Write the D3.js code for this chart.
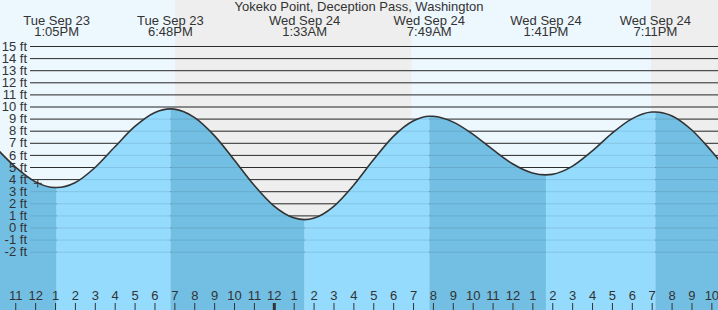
<!DOCTYPE html>
<html>
<head>
<meta charset="utf-8">
<script src="https://cdn.jsdelivr.net/npm/d3@7"></script>
<style>
body { margin: 0; }
svg { display: block; font-family: "Liberation Sans", Arial, sans-serif; }
</style>
</head>
<body>
<svg id="tideSVG" width="718" height="310"></svg>
<script>
// Tide chart data
const chartTitle = "Yokeko Point, Deception Pass, Washington";
const viewStart = "2025-09-23T10:14";
const viewEnd = "2025-09-24T22:20";

// highs and lows
const extremeTimes = ["2025-09-23T13:05", "2025-09-23T18:48", "2025-09-24T01:33", "2025-09-24T07:49", "2025-09-24T13:41", "2025-09-24T19:11"];
const extremeHeights = [3.3, 9.8, 0.65, 9.2, 4.35, 9.55];
const extremeTypes = ["L", "H", "L", "H", "L", "H"];
const extremeDayLabels = ["Tue Sep 23", "Tue Sep 23", "Wed Sep 24", "Wed Sep 24", "Wed Sep 24", "Wed Sep 24"];
const extremeTimeLabels = ["1:05PM", "6:48PM", "1:33AM", "7:49AM", "1:41PM", "7:11PM"];

// hourly readings (hours counted from Tue 00:00)
const readingHours = [10, 11, 12, 13, 14, 15, 16, 17, 18, 19, 20, 21, 22, 23, 24, 25, 26, 27, 28,
    29, 30, 31, 32, 33, 34, 35, 36, 37, 38, 39, 40, 41, 42, 43, 44, 45, 46, 47];
const readingHeights = [6.64, 5.01, 3.79, 3.30, 3.70, 4.94, 6.65, 8.33, 9.49, 9.78, 9.10, 7.61, 5.60, 3.51, 1.79, 0.80, 0.76, 1.73, 3.47,
    5.57, 7.51, 8.80, 9.19, 8.73, 7.72, 6.45, 5.27, 4.51, 4.39, 5.05, 6.31, 7.78, 8.98, 9.54, 9.24, 8.08, 6.33, 4.36];

// sunrise / sunset
const sunTimes = ["2025-09-23T19:02", "2025-09-24T06:56", "2025-09-24T18:58"];
const sunTypes = ["set", "rise", "set"];

const yTicks = [-2, -1, 0, 1, 2, 3, 4, 5, 6, 7, 8, 9, 10, 11, 12, 13, 14, 15];

const nowTime = "2025-09-23T12:08";
const nowHeight = 3.65;

function tideDrawing(id) {
    const parse = d3.timeParse("%Y-%m-%dT%H:%M");
    const svg = d3.select(id),
        width = +svg.attr("width"),
        height = +svg.attr("height");

    const dayColor = "#edf7fe", nightColor = "#eeeeee";
    const floodColor = "#94dbfe", ebbColor = "#72bfe3";

    const x = d3.scaleTime().domain([parse(viewStart), parse(viewEnd)]).range([0, width]);
    const y = d3.scaleLinear().domain([-2, 15]).range([251.7, 46]);

    const tueStart = parse("2025-09-23T00:00");
    const extremes = extremeTimes.map((t, i) => ({
        time: parse(t), h: extremeHeights[i], type: extremeTypes[i],
        day: extremeDayLabels[i], label: extremeTimeLabels[i]
    }));
    let points = readingHours.map((h, i) => ({time: d3.timeMinute.offset(tueStart, h * 60), h: readingHeights[i]}));
    points = points.concat(extremes.map(e => ({time: e.time, h: e.h})));
    points.sort((a, b) => a.time - b.time);

    // day / night background
    const sun = sunTimes.map((t, i) => ({time: parse(t), type: sunTypes[i]}));
    let bands = [];
    let prev = x.domain()[0];
    let prevDay = sun[0].type === "set";
    sun.forEach(s => {
        bands.push({a: prev, b: s.time, day: prevDay});
        prev = s.time;
        prevDay = s.type === "rise";
    });
    bands.push({a: prev, b: x.domain()[1], day: prevDay});

    svg.append("g")
        .selectAll("rect")
        .data(bands)
        .join("rect")
        .attr("x", d => x(d.a))
        .attr("width", d => x(d.b) - x(d.a))
        .attr("y", 0)
        .attr("height", height)
        .attr("fill", d => d.day ? dayColor : nightColor);

    // grid under water
    const yAxis = d3.axisLeft(y).tickValues(yTicks).tickSizeInner(-(width - 30)).tickSizeOuter(0)
        .tickPadding(3).tickFormat(d => d + " ft");
    const gridBack = svg.append("g").attr("transform", "translate(30,0)").call(yAxis);
    gridBack.select(".domain").remove();
    gridBack.selectAll("text").remove();
    gridBack.selectAll("line").attr("stroke", "#333");

    // water area, shaded by rising / falling tide
    const area = d3.area()
        .x(d => x(d.time))
        .y0(height)
        .y1(d => y(d.h))
        .curve(d3.curveMonotoneX);
    const line = d3.line()
        .x(d => x(d.time))
        .y(d => y(d.h))
        .curve(d3.curveMonotoneX);

    svg.append("clipPath").attr("id", "waterClip")
        .append("path").attr("d", area(points));

    let phases = [];
    prev = x.domain()[0];
    extremes.forEach(e => {
        phases.push({a: prev, b: e.time, rising: e.type === "L" ? false : true});
        prev = e.time;
    });
    phases.push({a: prev, b: x.domain()[1], rising: extremes[extremes.length - 1].type === "L"});

    svg.append("g")
        .attr("clip-path", "url(#waterClip)")
        .selectAll("rect")
        .data(phases)
        .join("rect")
        .attr("x", d => x(d.a))
        .attr("width", d => x(d.b) - x(d.a))
        .attr("y", 0)
        .attr("height", height)
        .attr("fill", d => d.rising ? floodColor : ebbColor);

    // faint grid + labels on top
    const gridFront = svg.append("g").attr("transform", "translate(30,0)").call(yAxis);
    gridFront.select(".domain").remove();
    gridFront.selectAll("line").attr("stroke", "rgba(0,0,0,0.1)");
    gridFront.selectAll("text").attr("fill", "#333").style("font-size", "13px")
        .style("font-family", "'Liberation Sans', Arial, sans-serif");

    svg.append("path")
        .attr("d", line(points))
        .attr("fill", "none")
        .attr("stroke", "#333")
        .attr("stroke-width", 1.6);

    // hour axis at the bottom
    const xAxis = d3.axisTop(x).ticks(d3.timeHour.every(1)).tickSizeInner(7).tickSizeOuter(0)
        .tickPadding(3).tickFormat(d3.timeFormat("%-I"));
    const gx = svg.append("g").attr("transform", `translate(0,${height})`).call(xAxis);
    gx.select(".domain").remove();
    gx.selectAll("line").attr("stroke", "#333")
        .attr("stroke-width", d => d.getHours() === 0 ? 3 : 1);
    gx.selectAll("text").attr("fill", "#333").style("font-size", "13px")
        .style("font-family", "'Liberation Sans', Arial, sans-serif");

    // header
    svg.append("text")
        .attr("x", width / 2)
        .attr("y", 11)
        .attr("text-anchor", "middle")
        .attr("fill", "#333")
        .style("font-size", "13px")
        .text(chartTitle);

    const head = svg.append("g")
        .selectAll("g")
        .data(extremes)
        .join("g")
        .attr("transform", d => `translate(${x(d.time)},0)`)
        .attr("text-anchor", "middle")
        .attr("fill", "#333")
        .style("font-size", "13px");
    head.append("text").attr("y", 24.5).text(d => d.day);
    head.append("text").attr("y", 36).text(d => d.label);

    // current time marker
    const mx = x(parse(nowTime)), my = y(nowHeight);
    svg.append("path")
        .attr("d", `M${mx - 4},${my}H${mx + 4}M${mx},${my - 4}V${my + 4}`)
        .attr("stroke", "#333")
        .attr("stroke-width", 1);
}

tideDrawing("#tideSVG");
</script>
</body>
</html>
